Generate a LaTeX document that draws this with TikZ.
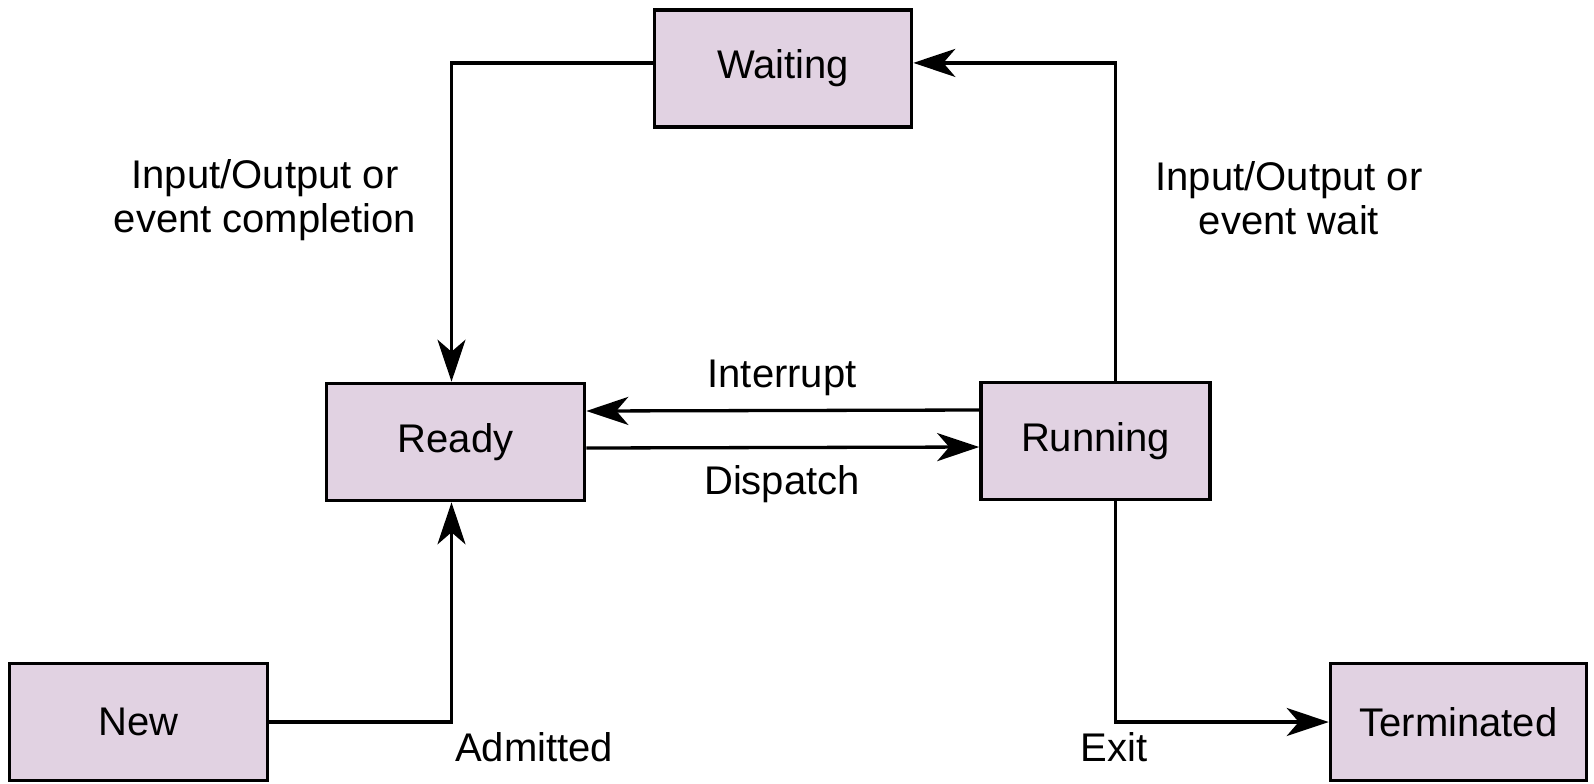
\documentclass[tikz,border=0pt]{standalone}
\usepackage{fontspec}
\setmainfont{Liberation Sans}
\usetikzlibrary{arrows.meta}
\definecolor{boxfill}{RGB}{225,210,226}
\begin{document}
\begin{tikzpicture}[x=0.5pt,y=-0.5pt,
  state/.style={draw=black, line width=1.8pt, fill=boxfill, minimum height=58.5pt, inner sep=0pt, font=\fontsize{20}{22}\selectfont},
  conn/.style={line width=1.65pt, -{Stealth[length=21pt,width=14pt,inset=6pt]}},
  lbl/.style={font=\fontsize{20}{22}\selectfont, align=center, inner sep=0pt}]
\useasboundingbox (0,0) rectangle (1594,783);

\node[state, minimum width=128.5pt] (waiting) at (783,68.5) {Waiting};
\node[state, minimum width=129pt] (ready) at (455.5,442) {Ready};
\node[state, minimum width=114.5pt] (running) at (1095.5,441) {Running};
\node[state, minimum width=129pt] (new) at (138.5,722) {New};
\node[state, minimum width=128pt] (term) at (1458.5,722) {Terminated};

\coordinate (rdtop) at ([xshift=-2pt]ready.north);
\coordinate (rdbot) at ([xshift=-2pt]ready.south);
\coordinate (rntop) at ([xshift=10pt]running.north);
\coordinate (rnbot) at ([xshift=10pt]running.south);

\draw[conn] ([yshift=2.8pt]waiting.west) -| (rdtop);
\draw[conn] (rntop) |- ([yshift=2.8pt]waiting.east);
\draw[conn] ([yshift=15.5pt]running.west) -- ([yshift=15.5pt]ready.east);
\draw[conn] ([yshift=-3pt]ready.east) -- ([yshift=-3pt]running.west);
\draw[conn] (new.east) -| (rdbot);
\draw[conn] (rnbot) |- (term.west);

\node[lbl] (l1) at (265,200) {Input/Output or\\event completion};
\node[lbl] (l2) at (1289,198) {Input/Output or\\event wait};
\node[lbl] (l3) at (782,378) {Interrupt};
\node[lbl] (l4) at (782,484) {Dispatch};
\node[lbl] (l5) at (534,747) {Admitted};
\node[lbl] (l6) at (1114,747) {Exit};
\end{tikzpicture}
\end{document}
